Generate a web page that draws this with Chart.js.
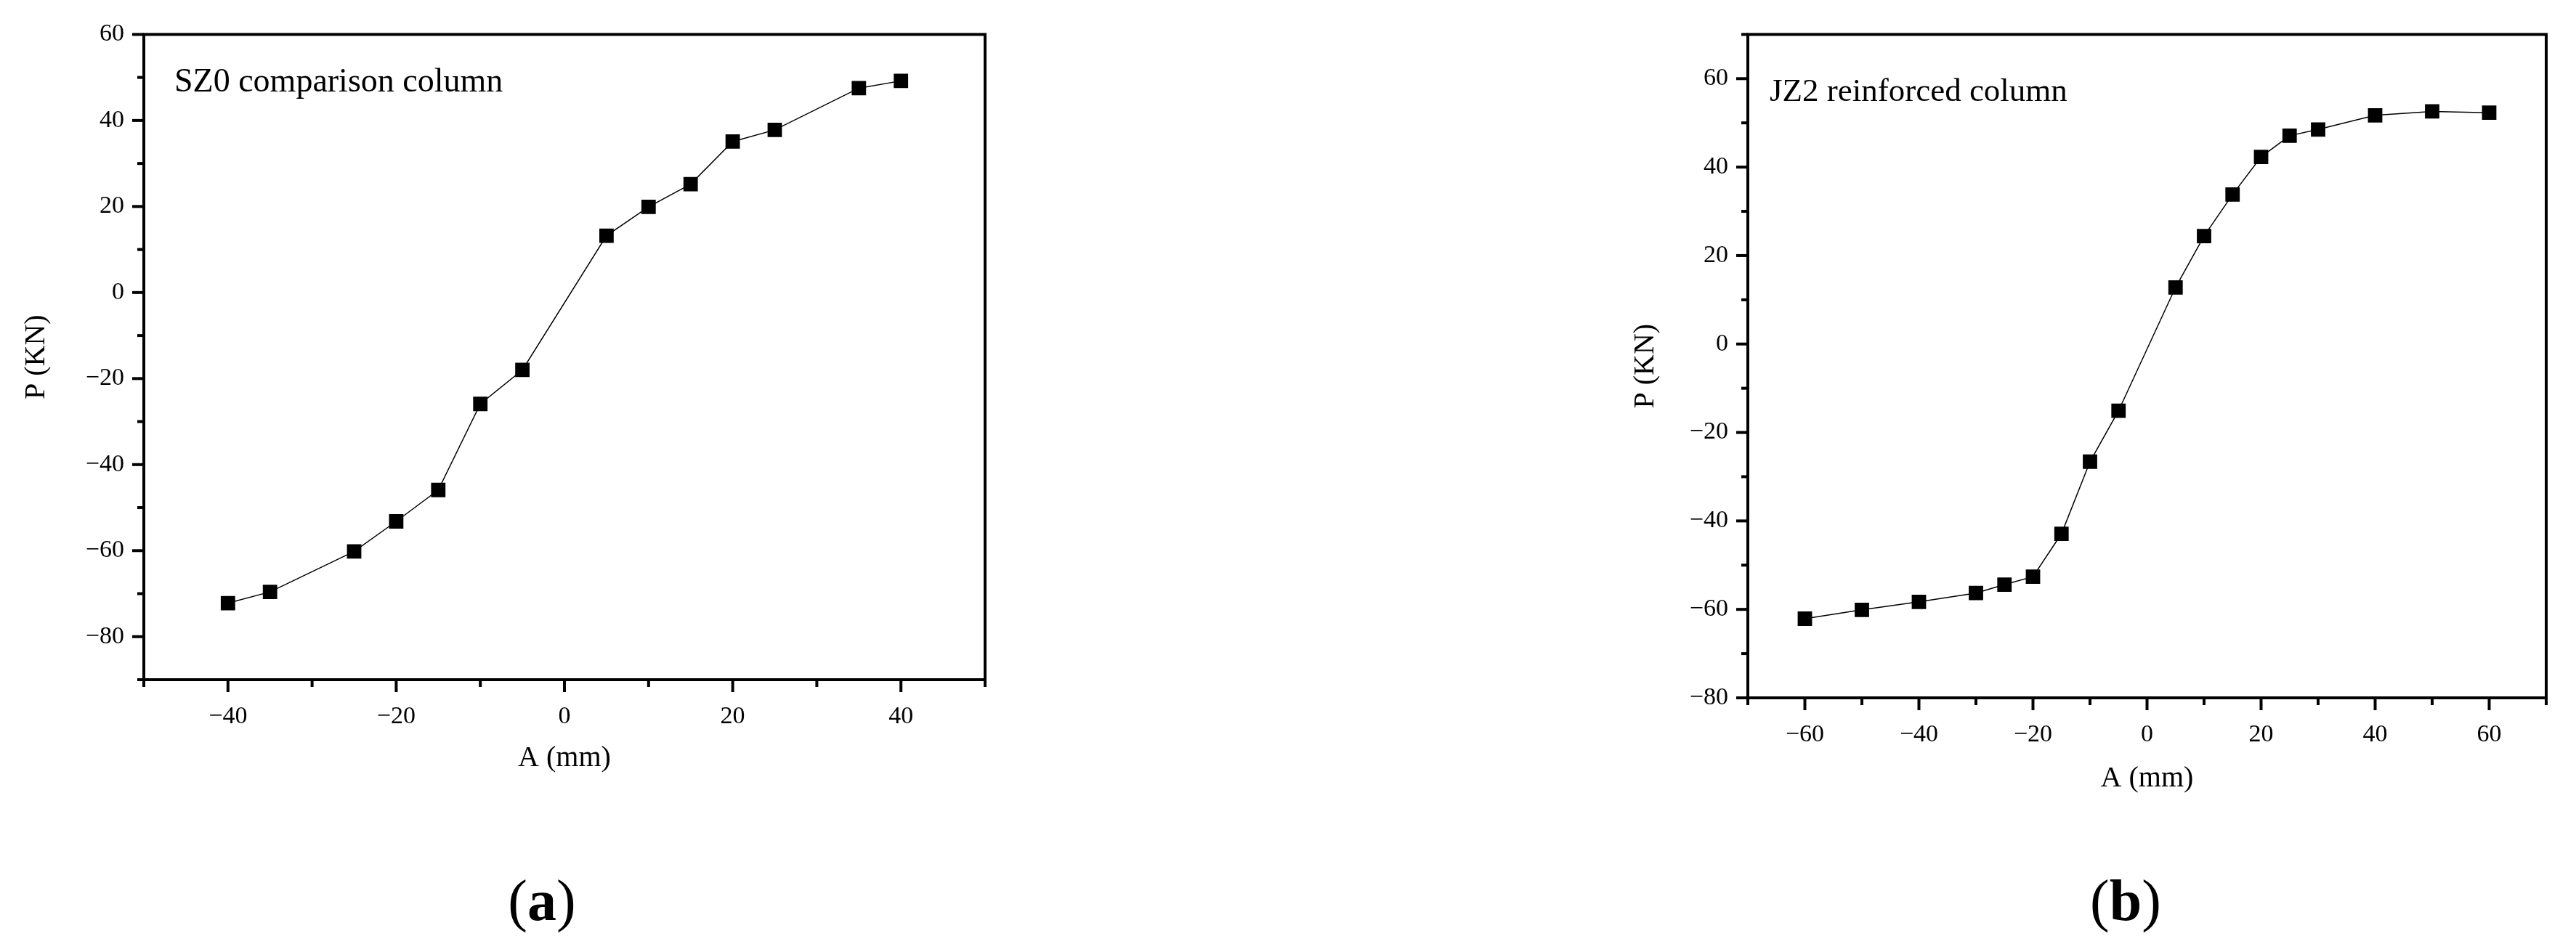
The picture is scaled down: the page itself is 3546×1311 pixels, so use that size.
<!DOCTYPE html>
<html><head><meta charset="utf-8">
<script src="https://cdn.jsdelivr.net/npm/chart.js@4/dist/chart.umd.min.js"></script>
<style>
html,body{margin:0;padding:0;background:#fff;width:3546px;height:1311px;overflow:hidden;}
.wrap{position:absolute;}
.cap{position:absolute;top:1200px;width:200px;text-align:center;font-family:'Liberation Serif',serif;font-size:80px;line-height:80px;color:#000;}
</style></head><body>
<div class="wrap" style="left:0;top:0;width:1450px;height:1120px"><canvas id="c1"></canvas></div>
<div class="wrap" style="left:2200px;top:0;width:1346px;height:1120px"><canvas id="c2"></canvas></div>
<div class="cap" style="left:646px">(<b>a</b>)</div>
<div class="cap" style="left:2826px">(<b>b</b>)</div>
<script>
// ---- data ----
const sz0Displacement = [-40, -35, -25, -20, -15, -10, -5, 5, 10, 15, 20, 25, 35, 40];
const sz0Load = [-72.2, -69.6, -60.2, -53.2, -45.9, -25.9, -18.0, 13.2, 19.9, 25.2, 35.1, 37.8, 47.5, 49.2];
const jz2Displacement = [-60, -50, -40, -30, -25, -20, -15, -10, -5, 5, 10, 15, 20, 25, 30, 40, 50, 60];
const jz2Load = [-62.1, -60.1, -58.3, -56.3, -54.4, -52.6, -42.9, -26.6, -15.1, 12.8, 24.4, 33.8, 42.3, 47.1, 48.5, 51.7, 52.6, 52.3];
const sz0Title = 'SZ0 comparison column';
const jz2Title = 'JZ2 reinforced column';
const xAxisTitle = 'A (mm)';
const yAxisTitle = 'P (KN)';
const sz0XRange = [-50, 50];
const sz0YRange = [-90, 60];
const jz2XRange = [-70, 70];
const jz2YRange = [-80, 70];
const tickStep = 10;
const labelStep = 20;

const FONT = "'Liberation Serif', 'Times New Roman', serif";

function fmt(v) {
  if (Math.abs(v % labelStep) !== 0) return '';
  return v < 0 ? '\u2212' + Math.abs(v) : String(v);
}

const framePlugin = {
  id: 'frameTicks',
  afterDraw(chart) {
    const {ctx, chartArea: a} = chart;
    const ax = chart.scales.x, ay = chart.scales.y;
    ctx.save();
    ctx.strokeStyle = '#000';
    ctx.lineWidth = 4;
    ctx.lineCap = 'butt';
    ax.ticks.forEach(t => {
      const p = ax.getPixelForValue(t.value);
      const L = (t.value % labelStep === 0) ? 17 : 10;
      ctx.beginPath(); ctx.moveTo(p, a.bottom); ctx.lineTo(p, a.bottom + L); ctx.stroke();
    });
    ay.ticks.forEach(t => {
      const p = ay.getPixelForValue(t.value);
      const L = (t.value % labelStep === 0) ? 16 : 9;
      ctx.beginPath(); ctx.moveTo(a.left - L, p); ctx.lineTo(a.left, p); ctx.stroke();
    });
    ctx.strokeRect(a.left, a.top, a.right - a.left, a.bottom - a.top);
    ctx.restore();
  }
};

const innerTitlePlugin = {
  id: 'innerTitle',
  afterDraw(chart, args, opts) {
    const {ctx, chartArea: a} = chart;
    ctx.save();
    ctx.font = opts.size + 'px ' + FONT;
    ctx.fillStyle = '#000';
    ctx.textAlign = 'left';
    ctx.textBaseline = 'alphabetic';
    ctx.fillText(opts.text, a.left + opts.dx, a.top + opts.dy);
    ctx.restore();
  }
};

function makeChart(id, xs, ys, xRange, yRange, cfg) {
  const pts = xs.map((x, i) => ({x: x, y: ys[i]}));
  return new Chart(document.getElementById(id), {
    type: 'scatter',
    data: {datasets: [{
      data: pts,
      showLine: true,
      borderColor: '#000',
      borderWidth: 1.5,
      pointStyle: 'rect',
      pointRadius: 14,
      pointHoverRadius: 14,
      pointBackgroundColor: '#000',
      pointBorderColor: '#000',
      pointBorderWidth: 0
    }]},
    options: {
      responsive: true,
      maintainAspectRatio: false,
      animation: false,
      devicePixelRatio: 1,
      layout: {padding: cfg.padding},
      plugins: {
        legend: {display: false},
        tooltip: {enabled: false},
        innerTitle: cfg.inner
      },
      scales: {
        x: {
          type: 'linear', min: xRange[0], max: xRange[1],
          grid: {display: false, drawTicks: false},
          border: {display: false},
          ticks: {stepSize: tickStep, autoSkip: false, maxRotation: 0, padding: 31,
                  color: '#000', font: {family: FONT, size: 34}, callback: v => fmt(v)},
          title: {display: true, text: xAxisTitle, color: '#000',
                  font: {family: FONT, size: 40}, padding: {top: 0, bottom: cfg.xTitlePad}},
          afterFit: s => { s.height = cfg.xHeight; }
        },
        y: {
          type: 'linear', min: yRange[0], max: yRange[1],
          grid: {display: false, drawTicks: false},
          border: {display: false},
          ticks: {stepSize: tickStep, autoSkip: false, padding: 27,
                  color: '#000', font: {family: FONT, size: 34}, callback: v => fmt(v)},
          title: {display: true, text: yAxisTitle, color: '#000',
                  font: {family: FONT, size: 40}, padding: {top: cfg.yTitlePad, bottom: 0}},
          afterFit: s => { s.width = cfg.yWidth; }
        }
      }
    },
    plugins: [framePlugin, innerTitlePlugin]
  });
}

makeChart('c1', sz0Displacement, sz0Load, sz0XRange, sz0YRange, {
  padding: {left: 0, top: 47, right: 94, bottom: 0},
  yWidth: 198, xHeight: 184, xTitlePad: 52, yTitlePad: 26,
  inner: {text: sz0Title, dx: 42, dy: 79, size: 46}
});
makeChart('c2', jz2Displacement, jz2Load, jz2XRange, jz2YRange, {
  padding: {left: 0, top: 19, right: 41, bottom: 0},
  yWidth: 206, xHeight: 159, xTitlePad: 24, yTitlePad: 41,
  inner: {text: jz2Title, dx: 30, dy: 92, size: 45}
});
</script>
</body></html>
